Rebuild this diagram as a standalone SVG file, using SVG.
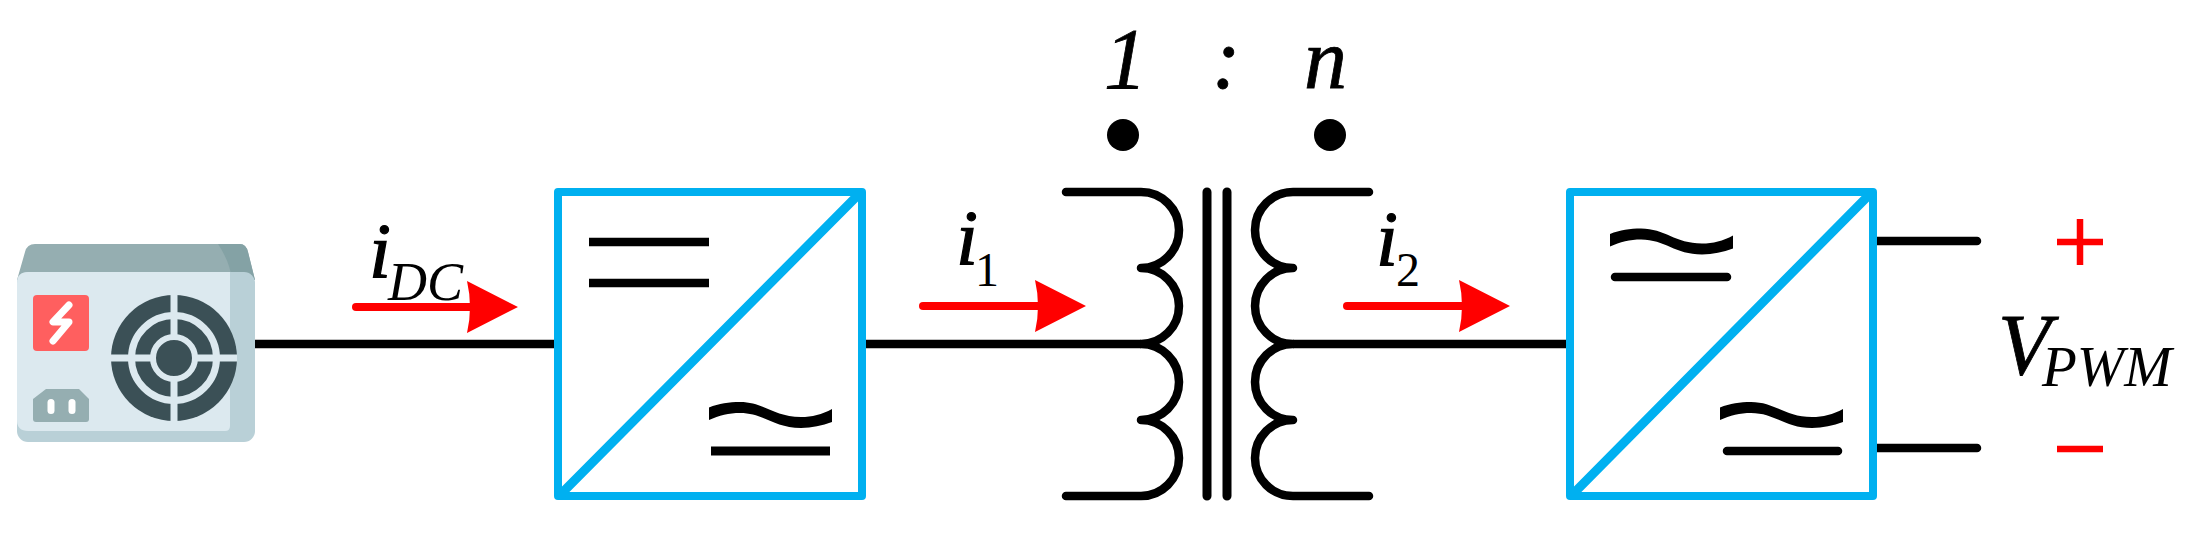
<svg xmlns="http://www.w3.org/2000/svg" xmlns:xlink="http://www.w3.org/1999/xlink" width="2201" height="547" viewBox="0 0 2201 547">
<style>
.w{fill:none;stroke:#000;stroke-width:8.500;stroke-linejoin:round}
.r{stroke-linecap:round}
.box{fill:none;stroke:#00b0f0;stroke-width:8;stroke-linejoin:round}
.dg{fill:none;stroke:#00b0f0;stroke-width:9;stroke-linecap:round}
.core{stroke-width:9}
.t{font-family:"Liberation Serif","Times New Roman",serif;font-style:italic;fill:#000}
.big{font-size:86px;stroke:#000;stroke-width:.8px}
.cur{font-size:79px;stroke:#000;stroke-width:1.200px}
.sub{font-size:54px;stroke:none}
.up{font-style:normal;font-size:48px}
.pwm{font-size:57px;stroke:none}
.ac{fill:#000}
.ar{fill:none;stroke:#f00;stroke-width:8;stroke-linecap:round}
.ah{fill:#f00}
.fg{fill:#3b5056}
.lt{fill:none;stroke:#dce9ef}
.pm{stroke:#f00;stroke-width:6.500}
</style>
<defs>
<path id="tilde" class="ac" d="M0,-7C10,-11 20,-12.500 31,-12.500C55,-12.500 65,2.500 92,2.500C103,2.500 113,0 123,-5.500V7.500C113,11 103,13.500 92,13.500C65,13.500 55,-1.500 31,-1.500C20,-1.500 10,1 0,5.500Z"/>
<path id="head" class="ah" d="M0,-26L51,0L0,26Q6,0 0,-26Z"/>
</defs>
<g id="connectors">
<path class="w" d="M255,344H554"/>
<path class="w" d="M866,344H1141"/>
<path class="w" d="M1293,344H1566"/>
<path class="w r" d="M1877,241H1977M1877,448H1977"/>
</g>
<g id="psu">
<path fill="#95aeb1" d="M17,280L25,252Q27,244 35,244H240Q246,244 248,252L255,280Z"/>
<path fill="#84a2a5" d="M218,244H240Q246,244 248,252L255,280H232Q230,262 218,244Z"/>
<rect x="17" y="272" width="238" height="170" rx="11" fill="#b9d0d7"/>
<path fill="#dce9ef" d="M17,283Q17,272 28,272H230V426Q230,431 225,431H28Q17,431 17,420Z"/>
<rect x="33" y="295" width="56" height="56" rx="4" fill="#ff5f5f"/>
<path fill="none" stroke="#fff" stroke-width="7" stroke-linecap="round" stroke-linejoin="round" d="M69,305L53,322H69L53,341"/>
<path fill="#95aeb1" d="M46,389H79L89,399V419Q89,422 86,422H36Q33,422 33,419V399Z"/>
<rect x="47.500" y="399" width="7" height="15" rx="3.500" fill="#fff"/>
<rect x="68.500" y="399" width="7" height="15" rx="3.500" fill="#fff"/>
<circle class="fg" cx="174" cy="358" r="63"/>
<circle class="lt" cx="174" cy="358" r="42.500" stroke-width="7"/>
<circle class="lt" cx="174" cy="358" r="21" stroke-width="6"/>
<path class="lt" stroke-width="7" d="M174,295V337M174,379V421M111,358H153M195,358H237"/>
</g>
<g id="converter1">
<path class="box" d="M558,192H862V496H558Z"/>
<path class="dg" d="M560,495L860,193"/>
<path class="w" d="M589,242H709M589,283H709"/>
<use href="#tilde" x="709" y="414.500"/>
<path class="w core" d="M711,451H830"/>
</g>
<g id="transformer">
<path class="w r" d="M1066,192H1141A38,38 0 0 1 1141,268A38,38 0 0 1 1141,344A38,38 0 0 1 1141,420A38,38 0 0 1 1141,496H1066"/>
<path class="w r" d="M1369,192H1293A38,38 0 0 0 1293,268A38,38 0 0 0 1293,344A38,38 0 0 0 1293,420A38,38 0 0 0 1293,496H1369"/>
<path class="w r core" d="M1207,192V496M1227,192V496"/>
<circle cx="1123" cy="135" r="16"/>
<circle cx="1330" cy="135" r="16"/>
<text class="t big" x="1104" y="88">1</text>
<text class="t big" x="1212" y="88">:</text>
<text class="t big" x="1304" y="88">n</text>
</g>
<g id="converter2">
<path class="box" d="M1570,192H1873V496H1570Z"/>
<path class="dg" d="M1572,495L1871,193"/>
<use href="#tilde" x="1610" y="241"/>
<path class="w r" d="M1615,277H1727"/>
<use href="#tilde" x="1720" y="414.500"/>
<path class="w r" d="M1727,451H1838"/>
</g>
<g id="currents">
<path class="ar" d="M356,307H472"/><use href="#head" x="467" y="307"/>
<path class="ar" d="M923,306H1040"/><use href="#head" x="1035" y="306"/>
<path class="ar" d="M1347,306H1464"/><use href="#head" x="1459" y="306"/>
<text class="t cur" x="369" y="277">i<tspan class="sub" x="388" y="300">DC</tspan></text>
<text class="t cur" x="956" y="264">i<tspan class="sub up" x="975" y="286">1</tspan></text>
<text class="t cur" x="1376" y="265">i<tspan class="sub up" x="1396" y="286">2</tspan></text>
</g>
<g id="output">
<path class="pm" d="M2057,242H2103M2057,449H2103M2080,219V265"/>
<text class="t big" x="1998" y="374">V<tspan class="pwm" x="2042" y="386">PWM</tspan></text>
</g>
</svg>
